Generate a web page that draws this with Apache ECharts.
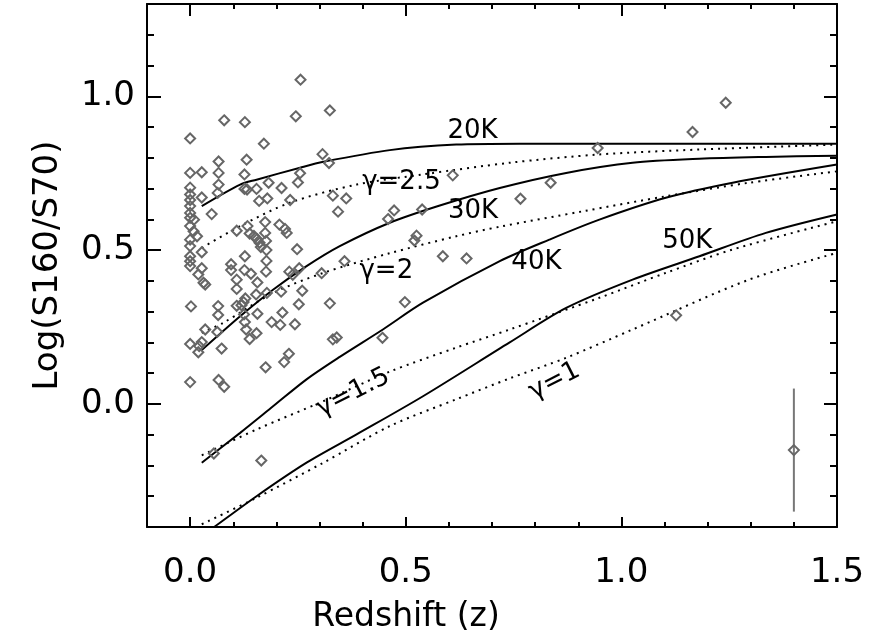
<!DOCTYPE html>
<html><head><meta charset="utf-8">
<script src="https://cdn.jsdelivr.net/npm/echarts@6/dist/echarts.min.js"></script>
<style>html,body{margin:0;padding:0;background:#fff}#c{width:869px;height:641px}</style>
</head><body><div id="c"></div><script>
// ---- axis ticks ----
const xMajorTicks = [0, 0.5, 1.0, 1.5];
const xMinorTicks = [0.1,0.2,0.3,0.4,0.6,0.7,0.8,0.9,1.1,1.2,1.3,1.4];
const yMajorTicks = [0, 0.5, 1.0];
const yMinorTicks = [-0.3,-0.2,-0.1,0.1,0.2,0.3,0.4,0.6,0.7,0.8,0.9,1.1,1.2];

// ---- observed galaxies [z, log(S160/S70)] ----
const galaxies = [
 [0.256,1.054],[0.245,0.935],[0.324,0.954],[0.079,0.922],[0.127,0.916],[0.000,0.863],[0.171,0.846],
 [0.066,0.788],[0.131,0.794],[0.307,0.812],[0.322,0.783],[0.000,0.751],[0.027,0.753],[0.066,0.751],
 [0.126,0.746],[0.255,0.750],[0.000,0.703],[0.066,0.713],[0.182,0.719],[0.250,0.720],[0.126,0.699],
 [0.132,0.697],[0.154,0.699],[0.212,0.702],[0.064,0.686],[0.000,0.681],[0.027,0.671],[0.160,0.660],
 [0.179,0.668],[0.232,0.663],[0.331,0.677],[0.362,0.668],[0.000,0.663],[0.000,0.643],[0.000,0.621],
 [0.000,0.605],[0.050,0.617],[0.009,0.599],[0.343,0.625],[0.459,0.601],[0.473,0.629],[0.538,0.632],
 [0.000,0.578],[0.008,0.561],[0.016,0.545],[0.000,0.534],[0.000,0.513],[0.108,0.563],[0.133,0.578],
 [0.138,0.554],[0.174,0.591],[0.174,0.556],[0.207,0.583],[0.220,0.569],[0.224,0.556],[0.148,0.546],
 [0.155,0.536],[0.161,0.524],[0.176,0.530],[0.164,0.510],[0.177,0.500],[0.027,0.493],[0.248,0.503],
 [0.525,0.547],[0.520,0.531],[0.000,0.480],[0.000,0.464],[0.000,0.448],[0.127,0.480],[0.177,0.465],
 [0.095,0.454],[0.095,0.435],[0.126,0.435],[0.141,0.423],[0.176,0.430],[0.230,0.430],[0.238,0.420],
 [0.253,0.441],[0.358,0.464],[0.305,0.425],[0.027,0.441],[0.019,0.421],[0.031,0.394],[0.035,0.388],
 [0.108,0.404],[0.156,0.395],[0.108,0.374],[0.178,0.361],[0.211,0.365],[0.260,0.368],[0.153,0.356],
 [0.128,0.343],[0.124,0.331],[0.119,0.321],[0.108,0.319],[0.065,0.318],[0.002,0.317],[0.324,0.327],
 [0.498,0.331],[0.252,0.324],[0.065,0.289],[0.156,0.293],[0.214,0.297],[0.125,0.291],[0.127,0.266],
 [0.189,0.266],[0.209,0.257],[0.243,0.259],[0.035,0.242],[0.063,0.234],[0.130,0.242],[0.154,0.230],
 [0.138,0.211],[0.027,0.201],[0.021,0.188],[0.000,0.195],[0.019,0.168],[0.073,0.180],[0.331,0.210],
 [0.340,0.216],[0.446,0.215],[0.229,0.163],[0.218,0.136],[0.175,0.119],[0.000,0.071],[0.066,0.078],
 [0.079,0.056],[0.055,-0.161],[0.165,-0.184],[0.586,0.480],[0.641,0.473],[0.609,0.743],[0.836,0.719],
 [0.766,0.667],[0.945,0.832],[1.165,0.884],[1.242,0.979],[1.127,0.288]
];

// typical error bar point
const errorPoint = [1.4, -0.15];
const errorHalf = 0.2;

// ---- model tracks: constant temperature (solid) ----
const curve20K = [[0.027,0.643],[0.116,0.713],[0.154,0.729],[0.255,0.768],[0.309,0.787],[0.463,0.825],[0.617,0.843],[0.764,0.846],[1.0,0.846],[1.5,0.846]];
const curve30K = [[0.027,0.175],[0.116,0.285],[0.193,0.372],[0.270,0.448],[0.347,0.513],[0.463,0.589],[0.579,0.645],[0.718,0.702],[0.872,0.751],[1.026,0.784],[1.181,0.797],[1.335,0.803],[1.5,0.807]];
const curve40K = [[0.027,-0.191],[0.116,-0.094],[0.193,-0.007],[0.270,0.080],[0.347,0.153],[0.447,0.242],[0.540,0.329],[0.718,0.464],[0.833,0.534],[0.949,0.599],[1.103,0.670],[1.258,0.719],[1.5,0.778]];
const curve50K = [[0.027,-0.43],[0.054,-0.402],[0.154,-0.300],[0.270,-0.191],[0.386,-0.099],[0.540,0.025],[0.741,0.200],[0.872,0.312],[1.026,0.404],[1.181,0.480],[1.335,0.556],[1.5,0.616]];
// ---- model tracks: emissivity index (dotted) ----
const gamma25 = [[0.027,0.507],[0.116,0.578],[0.231,0.654],[0.386,0.713],[0.540,0.746],[0.741,0.784],[0.949,0.811],[1.181,0.827],[1.5,0.843]];
const gamma2  = [[0.027,0.231],[0.077,0.264],[0.193,0.361],[0.309,0.426],[0.463,0.490],[0.617,0.545],[0.718,0.576],[0.910,0.626],[1.103,0.675],[1.296,0.719],[1.5,0.756]];
const gamma15 = [[0.027,-0.167],[0.154,-0.083],[0.309,0.009],[0.463,0.105],[0.617,0.183],[0.741,0.242],[0.949,0.345],[1.103,0.426],[1.258,0.502],[1.5,0.594]];
const gamma1  = [[0.027,-0.391],[0.154,-0.305],[0.309,-0.191],[0.463,-0.072],[0.617,0.015],[0.741,0.083],[0.872,0.150],[1.026,0.242],[1.296,0.404],[1.5,0.491]];

// ---- curve annotations ----
const labelText  = ['20K','30K','40K','50K','\u03b3=2.5','\u03b3=2','\u03b3=1.5','\u03b3=1'];
const labelX     = [0.655,0.656,0.803,1.153,0.490,0.455,0.378,0.845];
const labelY     = [0.886,0.626,0.459,0.529,0.719,0.431,0.036,0.074];
const labelAngle = [0,0,0,0,0,0,27,27];

const FONT = 'DejaVu Sans';
const chart = echarts.init(document.getElementById('c'), null, {renderer:'canvas'});

function xAx(pos, ticks, len, showLine, labels) {
  return {
    type:'value', min:-0.1, max:1.5, position:pos, gridIndex:0,
    axisLine:{show:showLine, onZero:false, lineStyle:{color:'#000', width:2}},
    axisTick:{show:true, inside:true, length:len, customValues:ticks, lineStyle:{color:'#000', width:2}},
    axisLabel:{show:labels, customValues:ticks, margin:29, fontFamily:FONT, fontSize:34, color:'#000',
      formatter:v=>Number(v).toFixed(1)},
    splitLine:{show:false}
  };
}
function yAx(pos, ticks, len, showLine, labels) {
  return {
    type:'value', min:-0.4, max:1.3, position:pos, gridIndex:0,
    axisLine:{show:showLine, onZero:false, lineStyle:{color:'#000', width:2}},
    axisTick:{show:true, inside:true, length:len, customValues:ticks, lineStyle:{color:'#000', width:2}},
    axisLabel:{show:labels, customValues:ticks, margin:12, fontFamily:FONT, fontSize:34, color:'#000',
      formatter:v=>Number(v).toFixed(1)},
    splitLine:{show:false}
  };
}

const xAxes = [
  Object.assign(xAx('bottom', xMajorTicks, 10, true, true),
    {name:'Redshift (z)', nameLocation:'middle', nameGap:74,
     nameTextStyle:{fontFamily:FONT, fontSize:33, color:'#000', padding:[0,172,0,0]}}),
  xAx('bottom', xMinorTicks, 5, false, false),
  xAx('top', xMajorTicks, 12, true, false),
  xAx('top', xMinorTicks, 5, false, false)
];
const yAxes = [
  Object.assign(yAx('left', yMajorTicks, 14, true, true),
    {name:'Log(S160/S70)', nameLocation:'middle', nameGap:82, nameRotate:90,
     nameTextStyle:{fontFamily:FONT, fontSize:34, color:'#000'}}),
  yAx('left', yMinorTicks, 7, false, false),
  yAx('right', yMajorTicks, 13, true, false),
  yAx('right', yMinorTicks, 7, false, false)
];

function solid(data){ return {type:'line', data, showSymbol:false, symbol:'none', smooth:0.3,
  lineStyle:{color:'#000', width:2}, clip:true, z:3, silent:true}; }
function dotted(data){ return {type:'line', data, showSymbol:false, symbol:'none', smooth:0.3,
  lineStyle:{color:'#000', width:2, type:[2,5], cap:'butt'}, clip:true, z:3, silent:true}; }

const labelData = labelText.map((t,i)=>({value:[labelX[i], labelY[i]], name:t,
  label:{rotate:labelAngle[i]}}));

const option = {
  animation:false,
  backgroundColor:'#fff',
  grid:{left:147, right:32, top:4, bottom:114, containLabel:false},
  xAxis:xAxes,
  yAxis:yAxes,
  series:[
    solid(curve20K), solid(curve30K), solid(curve40K), solid(curve50K),
    dotted(gamma25), dotted(gamma2), dotted(gamma15), dotted(gamma1),
    {type:'scatter', data:galaxies, symbol:'diamond', symbolSize:10, silent:true,
     itemStyle:{color:'rgba(255,255,255,0)', borderColor:'#666', borderWidth:2, opacity:1}, z:4},
    {type:'line', data:[[errorPoint[0], errorPoint[1]+errorHalf],[errorPoint[0], errorPoint[1]-errorHalf]],
     showSymbol:false, symbol:'none', silent:true, lineStyle:{color:'#777', width:2}, z:4},
    {type:'scatter', data:[errorPoint], symbol:'diamond', symbolSize:10, silent:true,
     itemStyle:{color:'rgba(255,255,255,0)', borderColor:'#666', borderWidth:2, opacity:1}, z:5},
    {type:'scatter', data:labelData, symbolSize:0, z:6, silent:true, itemStyle:{opacity:1},
     label:{show:true, position:[0,0], align:'center', verticalAlign:'middle', formatter:p=>p.name,
       fontFamily:FONT, fontSize:26, color:'#000', textBorderWidth:0, opacity:1}}
  ]
};
chart.setOption(option);
</script></body></html>
